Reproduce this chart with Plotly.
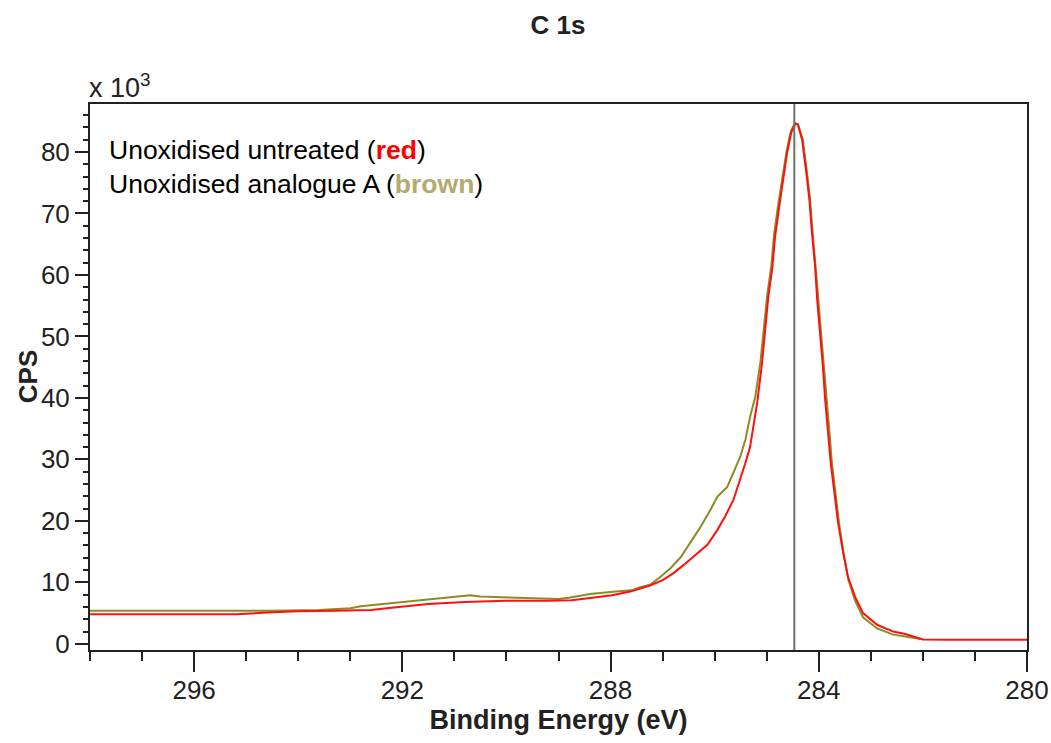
import plotly.graph_objects as go

# Binding energy (eV) and intensity (CPS, in units of 10^3)
energy_red = [298.0, 296.5, 295.2, 294.6, 294.0, 293.3, 292.6, 292.3, 291.9, 291.5,
              290.8, 290.0, 289.2, 288.75, 288.35, 287.97, 287.62, 287.43, 287.24, 286.99,
              286.79, 286.60, 286.33, 286.14, 285.95, 285.80, 285.64, 285.51, 285.41, 285.32,
              285.26, 285.18, 285.09, 285.03, 284.97, 284.89, 284.84, 284.76, 284.68, 284.61,
              284.53, 284.45, 284.40, 284.32, 284.24, 284.18, 284.13, 284.07, 284.03, 283.97,
              283.92, 283.88, 283.82, 283.77, 283.69, 283.63, 283.53, 283.44, 283.30, 283.15,
              282.88, 282.57, 282.34, 282.10, 282.00, 281.50, 280.0]
cps_red = [4.8, 4.8, 4.8, 5.1, 5.3, 5.4, 5.5, 5.8, 6.1, 6.5,
           6.8, 7.0, 7.0, 7.1, 7.5, 7.9, 8.5, 9.0, 9.5, 10.4,
           11.5, 12.8, 14.8, 16.1, 18.5, 20.7, 23.4, 26.7, 29.4, 32.0,
           35.3, 39.4, 45.7, 51.5, 56.4, 61.3, 66.2, 71.1, 75.4, 79.8,
           83.1, 84.6, 84.4, 82.0, 76.7, 72.2, 66.8, 61.3, 55.9, 50.6,
           45.0, 40.0, 34.8, 29.4, 23.9, 19.7, 14.8, 10.9, 7.6, 5.0,
           3.1, 2.0, 1.6, 1.0, 0.7, 0.65, 0.65]

energy_brown = [298.0, 297.2, 296.0, 295.2, 294.5, 293.6, 293.0, 292.8, 292.45, 292.0,
                291.7, 291.35, 290.7, 290.5, 289.8, 289.3, 289.0, 288.8, 288.4, 287.9,
                287.6, 287.43, 287.24, 287.04, 286.85, 286.66, 286.47, 286.28, 286.08, 285.95,
                285.76, 285.64, 285.51, 285.41, 285.32, 285.22, 285.12, 285.05, 284.99, 284.91,
                284.86, 284.78, 284.70, 284.62, 284.54, 284.46, 284.40, 284.31, 284.23, 284.17,
                284.12, 284.06, 284.01, 283.96, 283.90, 283.86, 283.80, 283.75, 283.67, 283.61,
                283.52, 283.43, 283.30, 283.15, 282.88, 282.57, 282.34, 282.05]
cps_brown = [5.4, 5.4, 5.3, 5.3, 5.4, 5.5, 5.8, 6.1, 6.4, 6.8,
             7.1, 7.4, 7.9, 7.7, 7.5, 7.3, 7.3, 7.5, 8.1, 8.5,
             8.7, 9.2, 9.6, 10.9, 12.3, 14.0, 16.4, 18.9, 21.8, 23.9,
             25.5, 27.8, 30.4, 33.2, 36.9, 40.2, 45.9, 51.8, 56.7, 61.6,
             66.5, 71.4, 75.7, 80.0, 83.3, 84.7, 84.5, 82.1, 76.9, 72.5,
             67.1, 61.6, 56.2, 50.9, 45.3, 40.3, 35.0, 29.6, 24.0, 19.6,
             14.5, 10.4, 7.0, 4.3, 2.5, 1.5, 1.2, 0.8]

peak_marker = 284.47
x_ticks = [296, 292, 288, 284, 280]
y_ticks = [0, 10, 20, 30, 40, 50, 60, 70, 80]

RED = "#ff1010"
OLIVE = "#8c8c24"
FONT = "Liberation Sans, Arial, sans-serif"

fig = go.Figure()
fig.add_trace(go.Scatter(x=energy_brown, y=cps_brown, mode="lines",
                         line=dict(color=OLIVE, width=2), showlegend=False))
fig.add_trace(go.Scatter(x=energy_red, y=cps_red, mode="lines",
                         line=dict(color=RED, width=2), showlegend=False))

fig.add_shape(type="line", xref="x", yref="paper", x0=peak_marker, x1=peak_marker,
              y0=0, y1=1, line=dict(color="#707070", width=2))

fig.add_annotation(xref="paper", yref="paper", x=0.018, y=0.947, xanchor="left", yanchor="top",
                   align="left", showarrow=False,
                   text=("Unoxidised untreated (<b><span style='color:#ff0000'>red</span></b>)<br>"
                         "Unoxidised analogue A (<b><span style='color:#b3aa72'>brown</span></b>)"),
                   font=dict(family=FONT, size=26.5, color="black"))
fig.add_annotation(xref="paper", yref="paper", x=-0.003, y=0.998, xanchor="left", yanchor="bottom",
                   showarrow=False, text="x 10<sup>3</sup>",
                   font=dict(family=FONT, size=27, color="#222"))
# y-axis title
fig.add_annotation(xref="paper", yref="paper", x=-0.066, y=0.5, xanchor="center", yanchor="middle",
                   showarrow=False, textangle=-90, text="<b>CPS</b>",
                   font=dict(family=FONT, size=26, color="#222"))

fig.update_layout(
    width=1051, height=743,
    margin=dict(l=90, r=24, t=104, b=93),
    paper_bgcolor="white", plot_bgcolor="white",
    title=dict(text="<b>C 1s</b>", x=0.531, xanchor="center", y=0.966, yanchor="middle",
               font=dict(family=FONT, size=26, color="#222")),
    font=dict(family=FONT, color="#222"),
)
fig.update_xaxes(range=[298, 280], tickvals=x_ticks, ticks="outside", ticklen=20, tickwidth=2,
                 tickcolor="#222", showline=True, linecolor="#222", linewidth=2, mirror=True,
                 showgrid=False, zeroline=False, automargin=False, ticklabelstandoff=-4,
                 tickfont=dict(family=FONT, size=26, color="#222"),
                 minor=dict(dtick=1, tick0=280, ticks="outside", ticklen=9, tickwidth=2, tickcolor="#222", showgrid=False),
                 title=dict(text="<b>Binding Energy (eV)</b>", standoff=4,
                            font=dict(family=FONT, size=27, color="#222")))
fig.update_yaxes(range=[-1, 87.8], tickvals=y_ticks, ticks="outside", ticklen=13, tickwidth=2,
                 tickcolor="#222", showline=True, linecolor="#222", linewidth=2, mirror=True,
                 showgrid=False, zeroline=False, automargin=False,
                 tickfont=dict(family=FONT, size=26, color="#222"),
                 minor=dict(dtick=2, tick0=0, ticks="outside", ticklen=5, tickwidth=2, tickcolor="#222", showgrid=False))

fig.write_html("out.html", config={"displayModeBar": False},
               post_script="document.body.style.margin='0';document.body.style.overflow='hidden';")
